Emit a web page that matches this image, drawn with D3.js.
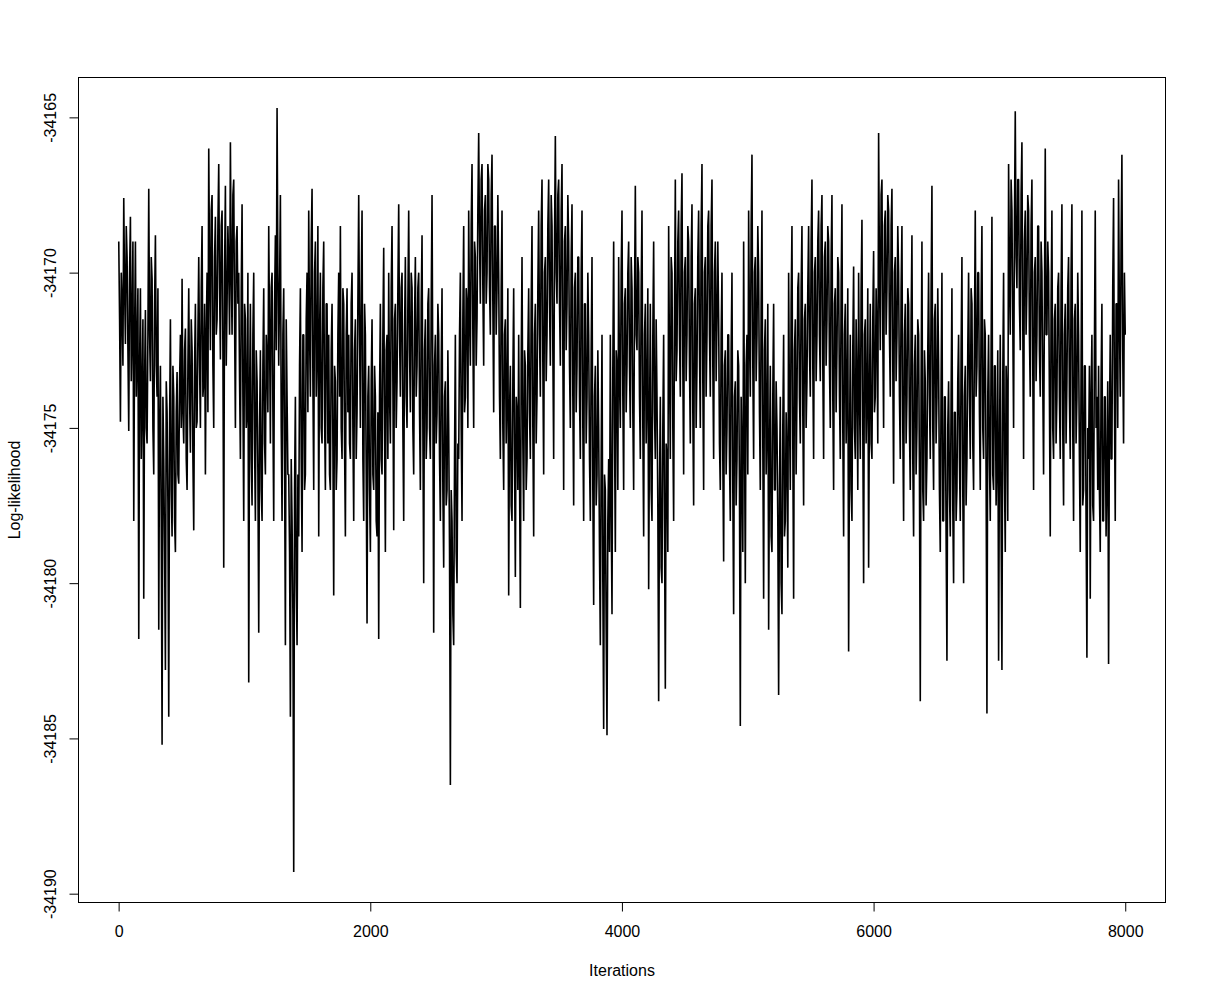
<!DOCTYPE html>
<html>
<head>
<meta charset="utf-8">
<script src="https://cdn.jsdelivr.net/npm/d3@7"></script>
<style>
  html, body { margin: 0; padding: 0; background: #fff; }
  svg { display: block; font-family: "Liberation Sans", Arial, sans-serif; }
</style>
</head>
<body>
<svg id="chart" width="1206" height="1000"></svg>
<script>
// Log-likelihood trace (thinned to ~6.6 iterations apart)
const logLik = [
-34169.0,-34171.5,-34174.8,-34170.0,-34171.0,-34173.0,-34167.6,-34170.5,-34172.3,-34168.5,-34169.5,-34172.5,
-34175.1,-34170.0,-34168.2,-34173.5,-34171.8,-34169.0,-34178.0,-34172.0,-34169.0,-34174.0,-34172.5,-34170.5,
-34181.8,-34173.0,-34170.5,-34176.0,-34174.0,-34171.5,-34180.5,-34173.5,-34171.2,-34175.0,-34175.5,-34172.0,
-34167.3,-34172.0,-34173.5,-34169.5,-34170.2,-34175.0,-34176.5,-34171.0,-34168.8,-34173.0,-34174.0,-34170.5,
-34181.5,-34175.0,-34173.0,-34178.0,-34185.2,-34174.0,-34176.0,-34179.0,-34182.8,-34173.5,-34174.5,-34177.5,
-34184.3,-34175.0,-34171.5,-34177.0,-34178.5,-34173.0,-34174.0,-34178.0,-34179.0,-34174.5,-34173.2,-34176.5,
-34176.8,-34173.5,-34172.0,-34175.0,-34170.2,-34174.5,-34175.5,-34172.5,-34171.8,-34176.0,-34177.0,-34173.0,
-34170.5,-34174.0,-34175.8,-34171.5,-34172.5,-34176.0,-34178.3,-34173.0,-34171.0,-34175.0,-34174.8,-34172.0,
-34169.5,-34173.0,-34175.0,-34170.5,-34168.5,-34174.0,-34173.5,-34171.0,-34176.5,-34172.0,-34170.0,-34174.5,
-34166.0,-34170.0,-34172.5,-34168.0,-34167.5,-34173.0,-34175.0,-34169.5,-34168.2,-34172.0,-34171.5,-34168.5,
-34166.5,-34170.5,-34172.8,-34168.5,-34168.0,-34172.5,-34179.5,-34170.0,-34167.2,-34173.0,-34171.0,-34168.5,
-34169.8,-34172.0,-34165.8,-34170.0,-34172.0,-34167.5,-34167.0,-34171.5,-34175.0,-34169.0,-34168.5,-34171.0,
-34170.0,-34173.5,-34176.0,-34170.5,-34167.8,-34174.0,-34178.0,-34171.0,-34171.5,-34175.0,-34174.5,-34170.0,
-34183.2,-34174.0,-34171.0,-34176.0,-34177.5,-34172.0,-34170.0,-34175.5,-34178.0,-34172.5,-34173.5,-34176.5,
-34181.6,-34175.0,-34172.5,-34177.0,-34178.0,-34173.0,-34170.5,-34175.5,-34176.5,-34172.0,-34172.8,-34174.5,
-34168.5,-34172.0,-34175.5,-34170.5,-34170.0,-34174.5,-34178.0,-34171.0,-34168.8,-34172.5,-34164.7,-34170.0,
-34173.0,-34170.5,-34167.5,-34175.0,-34178.0,-34172.0,-34170.5,-34176.0,-34182.0,-34171.5,-34174.0,-34176.5,
-34176.5,-34179.0,-34184.3,-34176.0,-34178.0,-34181.0,-34189.3,-34177.0,-34174.0,-34180.0,-34182.0,-34176.5,
-34178.5,-34173.0,-34170.5,-34176.0,-34179.0,-34172.0,-34172.0,-34177.0,-34176.5,-34171.5,-34170.0,-34174.5,
-34168.0,-34172.0,-34174.0,-34169.0,-34167.3,-34173.5,-34177.0,-34170.0,-34169.0,-34174.0,-34172.5,-34168.5,
-34178.5,-34172.0,-34170.0,-34175.0,-34175.5,-34170.5,-34169.0,-34174.5,-34177.0,-34171.0,-34171.0,-34175.5,
-34172.0,-34176.5,-34177.0,-34172.5,-34171.0,-34175.5,-34180.4,-34173.0,-34173.5,-34177.0,-34176.0,-34172.0,
-34170.0,-34174.0,-34168.5,-34175.0,-34176.0,-34170.5,-34171.0,-34175.5,-34178.5,-34172.0,-34170.5,-34174.5,
-34172.0,-34175.5,-34176.0,-34171.0,-34170.0,-34175.0,-34178.0,-34172.5,-34171.5,-34176.0,-34174.5,-34171.0,
-34167.5,-34172.0,-34175.0,-34170.5,-34168.0,-34176.0,-34178.0,-34171.0,-34172.0,-34176.5,-34181.3,-34174.0,
-34173.0,-34177.0,-34179.0,-34173.5,-34171.5,-34176.5,-34177.0,-34173.0,-34174.0,-34178.0,-34178.5,-34174.5,
-34181.8,-34174.0,-34171.0,-34176.0,-34176.5,-34172.0,-34169.2,-34175.0,-34179.0,-34172.5,-34172.0,-34176.0,
-34170.0,-34174.0,-34175.5,-34170.5,-34168.5,-34173.5,-34178.3,-34171.5,-34171.0,-34175.0,-34173.5,-34170.5,
-34167.8,-34172.0,-34174.0,-34170.5,-34170.0,-34175.0,-34178.0,-34172.0,-34169.5,-34174.0,-34175.0,-34171.0,
-34168.0,-34172.5,-34174.5,-34170.0,-34170.5,-34175.0,-34176.5,-34171.5,-34169.5,-34174.0,-34173.0,-34170.5,
-34170.0,-34174.5,-34177.0,-34171.0,-34168.8,-34175.0,-34180.0,-34172.5,-34171.5,-34176.0,-34175.0,-34171.0,
-34170.5,-34175.0,-34176.0,-34171.0,-34167.5,-34174.0,-34181.6,-34173.0,-34172.0,-34175.5,-34174.5,-34171.0,
-34172.0,-34176.0,-34178.0,-34173.0,-34170.5,-34177.0,-34179.5,-34174.0,-34173.5,-34177.5,-34177.0,-34172.5,
-34175.0,-34179.0,-34186.5,-34177.0,-34178.0,-34181.0,-34182.0,-34176.0,-34172.0,-34179.0,-34180.0,-34175.5,
-34176.0,-34172.0,-34170.0,-34175.0,-34178.0,-34171.5,-34168.5,-34174.5,-34174.0,-34170.5,-34171.0,-34175.0,
-34168.0,-34171.5,-34173.0,-34168.5,-34166.5,-34172.0,-34175.0,-34169.0,-34169.5,-34173.0,-34171.5,-34168.0,
-34165.5,-34169.0,-34171.0,-34167.0,-34166.5,-34170.5,-34173.0,-34168.0,-34167.5,-34171.0,-34170.0,-34166.5,
-34167.0,-34170.5,-34172.0,-34167.5,-34166.2,-34171.0,-34174.5,-34168.5,-34168.5,-34172.0,-34170.5,-34167.5,
-34170.0,-34174.0,-34176.0,-34170.5,-34168.0,-34175.0,-34177.0,-34172.0,-34171.5,-34175.5,-34174.0,-34170.5,
-34180.4,-34174.5,-34173.0,-34177.5,-34178.0,-34173.5,-34170.5,-34176.0,-34179.8,-34174.0,-34174.5,-34177.0,
-34172.0,-34176.5,-34180.8,-34173.0,-34169.5,-34175.5,-34178.0,-34172.5,-34173.0,-34177.0,-34176.0,-34172.5,
-34170.5,-34174.5,-34176.0,-34171.0,-34168.5,-34175.0,-34178.5,-34172.0,-34171.0,-34175.5,-34174.0,-34170.5,
-34168.0,-34172.0,-34174.0,-34168.5,-34167.0,-34173.0,-34176.5,-34170.0,-34169.5,-34173.5,-34172.0,-34168.5,
-34167.0,-34171.0,-34173.0,-34167.5,-34168.5,-34172.5,-34176.0,-34169.0,-34165.6,-34170.0,-34171.0,-34167.5,
-34167.0,-34171.0,-34173.0,-34168.0,-34166.5,-34172.5,-34177.0,-34169.0,-34168.5,-34172.5,-34171.0,-34167.5,
-34169.0,-34173.0,-34175.0,-34169.5,-34167.8,-34174.0,-34177.5,-34170.5,-34170.0,-34174.5,-34173.0,-34169.5,
-34169.5,-34174.0,-34176.0,-34170.0,-34168.0,-34175.0,-34178.0,-34171.0,-34171.0,-34175.5,-34174.0,-34170.0,
-34172.0,-34176.0,-34178.0,-34172.5,-34169.5,-34177.0,-34180.7,-34174.0,-34173.0,-34177.5,-34176.5,-34172.5,
-34175.0,-34179.0,-34182.0,-34176.0,-34172.0,-34180.0,-34184.7,-34176.5,-34177.0,-34181.5,-34184.9,-34178.0,
-34176.0,-34179.0,-34172.0,-34177.5,-34181.0,-34173.0,-34169.0,-34175.0,-34179.0,-34172.5,-34173.0,-34177.0,
-34169.5,-34173.5,-34175.0,-34170.0,-34168.0,-34174.0,-34177.0,-34171.0,-34170.5,-34174.5,-34173.0,-34170.0,
-34169.0,-34173.0,-34175.0,-34169.5,-34170.5,-34174.5,-34177.0,-34171.0,-34167.2,-34172.0,-34172.5,-34169.5,
-34170.0,-34174.0,-34176.0,-34170.5,-34168.0,-34175.0,-34178.5,-34172.0,-34171.0,-34175.5,-34174.0,-34170.5,
-34180.2,-34175.0,-34171.0,-34177.0,-34178.0,-34172.0,-34169.0,-34174.5,-34176.0,-34171.5,-34174.0,-34177.5,
-34183.8,-34177.0,-34174.0,-34179.5,-34180.0,-34175.0,-34172.0,-34178.0,-34183.4,-34175.5,-34176.0,-34179.0,
-34168.5,-34173.0,-34176.0,-34169.5,-34170.0,-34175.0,-34178.0,-34171.5,-34167.0,-34173.5,-34172.5,-34169.0,
-34168.0,-34172.0,-34174.0,-34168.5,-34166.8,-34173.0,-34176.5,-34170.0,-34169.5,-34173.5,-34172.0,-34168.5,
-34169.0,-34173.0,-34175.5,-34169.5,-34167.8,-34174.5,-34177.5,-34171.0,-34170.5,-34175.0,-34173.0,-34169.5,
-34168.0,-34172.5,-34175.0,-34168.5,-34166.5,-34173.5,-34177.0,-34170.0,-34169.5,-34174.0,-34172.0,-34168.5,
-34168.0,-34172.0,-34174.0,-34168.5,-34167.0,-34173.0,-34176.0,-34170.0,-34169.0,-34173.5,-34171.5,-34169.0,
-34171.5,-34175.5,-34177.0,-34172.0,-34170.0,-34176.0,-34179.3,-34173.0,-34172.5,-34176.5,-34175.0,-34172.0,
-34172.0,-34176.0,-34178.0,-34172.5,-34170.0,-34177.0,-34181.0,-34174.0,-34173.5,-34177.5,-34176.0,-34172.5,
-34173.0,-34177.0,-34184.6,-34174.0,-34176.0,-34179.0,-34169.0,-34175.0,-34180.0,-34173.0,-34172.0,-34176.5,
-34168.0,-34172.0,-34174.0,-34168.5,-34166.2,-34173.0,-34176.0,-34170.0,-34169.5,-34173.5,-34172.0,-34168.5,
-34170.0,-34174.5,-34177.0,-34171.0,-34168.0,-34175.5,-34180.5,-34172.5,-34171.5,-34176.5,-34175.0,-34171.0,
-34181.5,-34176.0,-34173.0,-34178.5,-34179.0,-34174.0,-34171.0,-34177.0,-34177.0,-34173.5,-34175.0,-34178.0,
-34183.6,-34177.0,-34174.0,-34180.0,-34181.0,-34175.0,-34172.0,-34178.5,-34178.0,-34174.5,-34176.0,-34179.5,
-34170.0,-34174.5,-34177.0,-34171.0,-34168.5,-34175.5,-34180.5,-34172.5,-34171.5,-34176.5,-34174.0,-34170.5,
-34170.0,-34174.0,-34175.5,-34170.5,-34168.5,-34174.5,-34177.5,-34171.5,-34171.0,-34175.0,-34173.5,-34170.5,
-34168.5,-34172.5,-34174.0,-34169.0,-34167.0,-34173.0,-34176.0,-34170.0,-34169.5,-34173.5,-34172.0,-34169.0,
-34168.0,-34172.0,-34173.5,-34168.5,-34167.5,-34173.0,-34176.0,-34169.5,-34169.0,-34173.0,-34171.5,-34168.5,
-34169.0,-34173.0,-34175.0,-34169.5,-34167.5,-34174.0,-34177.0,-34171.0,-34170.5,-34174.5,-34172.5,-34169.5,
-34170.0,-34174.0,-34176.0,-34170.5,-34167.8,-34175.0,-34178.5,-34172.0,-34171.0,-34175.5,-34174.0,-34170.5,
-34182.2,-34176.0,-34172.0,-34177.0,-34178.0,-34172.5,-34169.8,-34175.0,-34176.0,-34171.5,-34173.5,-34177.0,
-34170.0,-34174.0,-34176.0,-34170.5,-34168.3,-34175.0,-34180.0,-34172.0,-34171.5,-34175.5,-34174.0,-34170.5,
-34179.5,-34174.0,-34171.0,-34175.5,-34176.0,-34171.5,-34169.3,-34174.5,-34174.0,-34170.5,-34172.0,-34175.5,
-34165.5,-34170.0,-34172.5,-34167.5,-34167.0,-34172.0,-34175.0,-34168.5,-34168.0,-34172.0,-34170.5,-34167.5,
-34168.0,-34172.0,-34174.0,-34168.5,-34167.3,-34173.0,-34176.8,-34170.0,-34169.5,-34173.5,-34172.0,-34168.5,
-34170.0,-34174.0,-34176.0,-34170.5,-34168.5,-34175.0,-34178.0,-34172.0,-34171.0,-34175.5,-34174.0,-34170.5,
-34171.0,-34175.0,-34177.0,-34171.5,-34168.8,-34176.0,-34178.5,-34173.0,-34172.0,-34176.5,-34175.0,-34171.5,
-34172.0,-34176.5,-34183.8,-34173.5,-34169.0,-34177.0,-34178.0,-34172.5,-34173.5,-34177.5,-34176.0,-34172.5,
-34170.0,-34174.0,-34176.0,-34170.5,-34167.2,-34175.0,-34177.0,-34171.5,-34171.0,-34175.5,-34174.0,-34170.5,
-34173.0,-34177.0,-34179.0,-34173.5,-34170.0,-34178.0,-34178.0,-34174.0,-34174.0,-34178.5,-34182.5,-34175.0,
-34173.5,-34177.0,-34178.5,-34174.0,-34170.5,-34177.5,-34180.0,-34174.5,-34174.5,-34178.0,-34177.0,-34173.5,
-34172.0,-34176.0,-34178.0,-34172.5,-34169.5,-34177.0,-34180.0,-34174.0,-34173.0,-34177.5,-34176.0,-34172.5,
-34170.0,-34174.0,-34176.0,-34170.5,-34171.0,-34175.5,-34177.0,-34172.0,-34168.0,-34174.0,-34173.0,-34170.0,
-34170.0,-34174.5,-34177.0,-34171.0,-34168.5,-34175.0,-34176.0,-34171.5,-34172.0,-34176.5,-34184.2,-34174.0,
-34172.0,-34176.0,-34178.0,-34172.5,-34168.2,-34176.5,-34177.0,-34173.0,-34173.0,-34177.5,-34176.0,-34172.5,
-34182.5,-34176.0,-34172.0,-34178.0,-34182.8,-34173.5,-34170.0,-34176.5,-34179.0,-34173.0,-34174.0,-34178.0,
-34166.5,-34170.0,-34172.0,-34167.0,-34168.0,-34171.5,-34175.0,-34168.5,-34164.8,-34169.5,-34170.5,-34167.0,
-34167.0,-34171.0,-34172.5,-34167.5,-34165.8,-34171.5,-34176.0,-34169.0,-34168.0,-34172.0,-34170.5,-34167.5,
-34168.0,-34172.0,-34174.0,-34168.5,-34167.0,-34173.0,-34177.0,-34170.0,-34169.5,-34173.5,-34172.0,-34168.5,
-34168.5,-34172.5,-34174.0,-34169.0,-34170.0,-34173.5,-34176.5,-34171.0,-34166.0,-34172.0,-34172.0,-34169.0,
-34170.0,-34174.0,-34178.5,-34171.0,-34168.0,-34175.0,-34176.0,-34171.5,-34171.0,-34175.5,-34174.0,-34170.5,
-34170.0,-34174.0,-34176.0,-34170.5,-34167.8,-34175.0,-34177.5,-34172.0,-34171.0,-34175.5,-34173.5,-34170.5,
-34169.5,-34174.0,-34176.0,-34170.0,-34167.8,-34175.0,-34178.0,-34171.5,-34171.0,-34175.5,-34174.0,-34170.0,
-34172.0,-34176.0,-34179.0,-34173.0,-34168.0,-34177.5,-34177.0,-34173.0,-34173.0,-34178.0,-34182.4,-34175.0,
-34176.0,-34173.0,-34180.5,-34174.0,-34172.0,-34177.5,-34178.0,-34172.5,-34168.0,-34175.0,-34174.0,-34177.0,
-34173.0,-34177.0,-34179.0,-34173.5,-34171.0,-34178.0,-34178.0,-34174.0,-34174.0,-34178.5,-34176.5,-34173.5,
-34182.6,-34175.0,-34172.0,-34176.0,-34176.0,-34170.5,-34167.6,-34174.0,-34178.0,-34171.0,-34171.0,-34175.0,
-34167.0,-34171.5,-34174.0,-34169.0,-34166.2,-34172.5,-34175.5,-34170.0,-34172.0
];
const firstIteration = 1;
const lastIteration = 8000;
const xTickValues = [0, 2000, 4000, 6000, 8000];
const yTickValues = [-34190, -34185, -34180, -34175, -34170, -34165];
const xLabel = "Iterations";
const yLabel = "Log-likelihood";

// iteration number of each stored sample (evenly thinned trace)
const iterations = logLik.map((_, i) =>
  firstIteration + i * (lastIteration - firstIteration) / (logLik.length - 1));

const plot = { left: 78.5, right: 1165.5, top: 77.5, bottom: 902.5 };
const svg = d3.select("#chart");

function rRange(lo, hi) { const e = (hi - lo) * 0.04; return [lo - e, hi + e]; }
const fmt = d => String(d);

const x = d3.scaleLinear()
  .domain(rRange(firstIteration, lastIteration))
  .range([plot.left, plot.right]);
const [ymin, ymax] = d3.extent(logLik);
const y = d3.scaleLinear()
  .domain(rRange(ymin, ymax))
  .range([plot.bottom, plot.top]);

// trace line
const line = d3.line().x((d, i) => x(iterations[i])).y(d => y(d));
svg.append("path")
  .datum(logLik)
  .attr("d", line)
  .attr("fill", "none")
  .attr("stroke", "#000")
  .attr("stroke-width", 1.6)
  .attr("stroke-linejoin", "bevel");

// frame
svg.append("rect")
  .attr("x", plot.left).attr("y", plot.top)
  .attr("width", plot.right - plot.left).attr("height", plot.bottom - plot.top)
  .attr("fill", "none").attr("stroke", "#000").attr("stroke-width", 1);

// x axis
const gx = svg.append("g")
  .attr("transform", `translate(0,${plot.bottom})`)
  .call(d3.axisBottom(x).tickValues(xTickValues).tickSize(9).tickSizeOuter(0)
        .tickPadding(14).tickFormat(fmt));
gx.select(".domain").remove();
gx.selectAll("text").attr("font-size", 16).attr("font-family", "Liberation Sans, Arial, sans-serif").attr("fill", "#000");
gx.selectAll("line").attr("stroke", "#000");

// y axis
const gy = svg.append("g")
  .attr("transform", `translate(${plot.left},0)`)
  .call(d3.axisLeft(y).tickValues(yTickValues).tickSize(9).tickSizeOuter(0)
        .tickFormat(fmt));
gy.select(".domain").remove();
gy.selectAll("line").attr("stroke", "#000");
gy.selectAll("text")
  .attr("x", null).attr("dy", null)
  .attr("transform", "translate(-23,0) rotate(-90)")
  .attr("text-anchor", "middle")
  .attr("font-size", 16).attr("font-family", "Liberation Sans, Arial, sans-serif")
  .attr("fill", "#000");

// axis titles
svg.append("text")
  .attr("x", (plot.left + plot.right) / 2).attr("y", 976)
  .attr("text-anchor", "middle").attr("font-size", 16).text(xLabel);
svg.append("text")
  .attr("transform", `translate(20,${(plot.top + plot.bottom) / 2}) rotate(-90)`)
  .attr("text-anchor", "middle").attr("font-size", 16).text(yLabel);
</script>
</body>
</html>
